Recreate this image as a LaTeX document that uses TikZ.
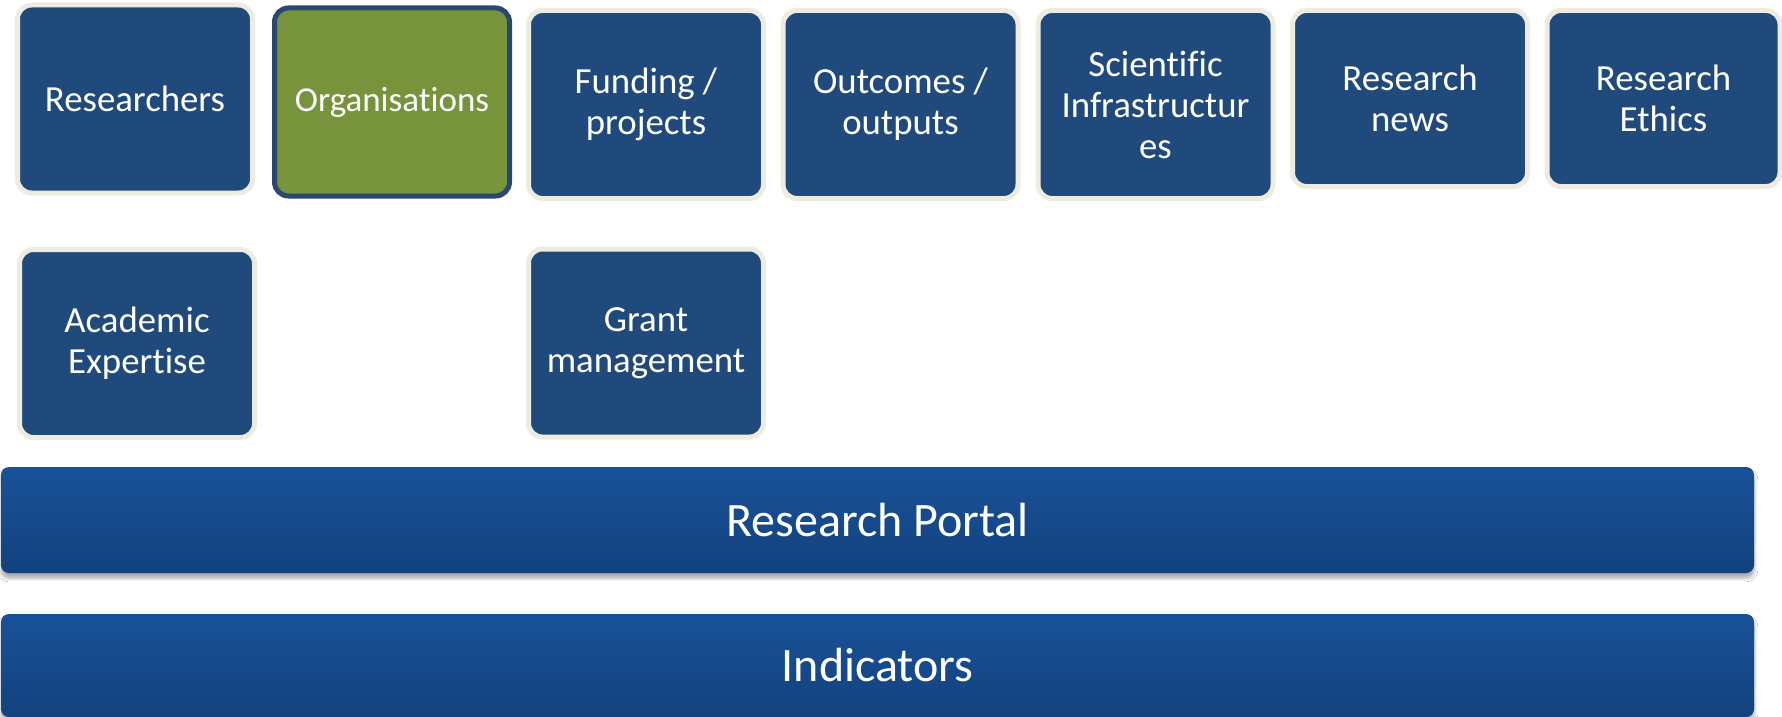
\documentclass[tikz,border=0pt]{standalone}
\usepackage{fontspec}
\setmainfont{Carlito}[Ligatures=NoCommon]
\usetikzlibrary{shadows.blur}
\definecolor{boxblue}{HTML}{214A7C}
\definecolor{boxrim}{HTML}{EEECE1}
\definecolor{orggreen}{HTML}{77933C}
\definecolor{orgrim}{HTML}{2B4770}
\definecolor{bardeep}{HTML}{0C2D58}
\definecolor{barlow}{HTML}{103B72}
\definecolor{barmid}{HTML}{164A8B}
\definecolor{bartop}{HTML}{1A54A0}
\definecolor{barhi}{HTML}{5F93DA}
\pgfdeclareverticalshading{barshade}{100bp}{color(0bp)=(bardeep); color(5bp)=(barlow); color(50bp)=(barmid); color(88bp)=(bartop); color(93bp)=(barhi); color(97bp)=(barhi); color(100bp)=(bartop)}
\begin{document}
\begin{tikzpicture}[x=0.5pt,y=-0.5pt,
  tile/.style={rounded corners=7pt, fill=boxblue, draw=boxrim, line width=2.5pt,
    text=white, align=center, inner sep=0pt,
    font=\fontsize{18.4}{20.5}\selectfont,
    minimum width=117.5pt, minimum height=94pt},
  shorttile/.style={tile, minimum height=88pt},
  greentile/.style={tile, fill=orggreen, draw=orgrim, font=\fontsize{17.5}{20.5}\selectfont},
  bar/.style={rounded corners=4pt, shading=barshade, draw=none,
    text=white, inner sep=0pt, font=\fontsize{24}{28}\selectfont,
    minimum width=876.5pt,
    blur shadow={shadow xshift=0pt, shadow yshift=-2.5pt, shadow blur steps=6, shadow opacity=35}}
]
\useasboundingbox (0,0) rectangle (1782,717);
\fill[white] (0,0) rectangle (1782,717);

\node[tile] (researchers) at (135,99) {Researchers};
\node[greentile] (organisations) at (392,102) {Organisations};
\node[tile] (funding) at (646,104.5) {Funding /\\projects};
\node[tile] (outcomes) at (900.5,104.5) {Outcomes /\\outputs};
\node[tile] (infra) at (1155.5,104.5) {Scientific\\Infrastructur\\es};
\node[shorttile] (news) at (1410,98.5) {Research\\news};
\node[shorttile, minimum width=116.5pt] (ethics) at (1663.5,98.5) {Research\\Ethics};

\node[tile] (expertise) at (137,343.5) {Academic\\Expertise};
\node[tile] (grant) at (646,343) {Grant\\management};

\node[bar, minimum height=53pt] (portal) at (877.5,520) {Research Portal};
\node[bar, minimum height=51.5pt] (indicators) at (877.5,665.5) {Indicators};
\end{tikzpicture}
\end{document}
